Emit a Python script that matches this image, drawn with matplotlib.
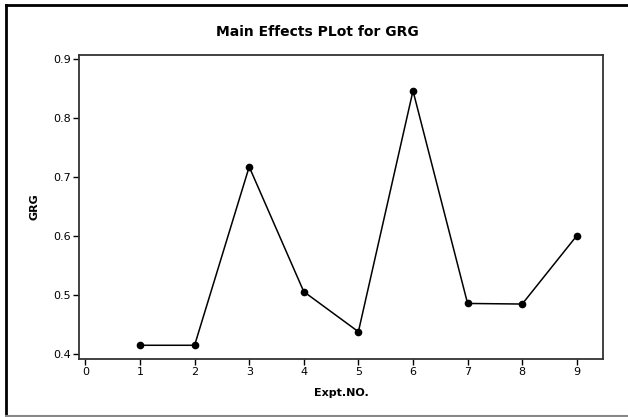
import matplotlib.pyplot as plt
from matplotlib.lines import Line2D

expt_no = [1, 2, 3, 4, 5, 6, 7, 8, 9]
grg = [0.414, 0.414, 0.717, 0.505, 0.437, 0.846, 0.485, 0.484, 0.600]

fig = plt.figure(figsize=(6.28, 4.17), dpi=100)
ax = fig.add_axes([0.1258, 0.1391, 0.8344, 0.7297])

ax.plot(expt_no, grg, color='black', linewidth=1.1, marker='o', markersize=4.5)

ax.set_xlim(-0.117, 9.48)
ax.set_ylim(0.3907, 0.9073)
ax.set_xticks(range(0, 10))
ax.set_yticks([0.4, 0.5, 0.6, 0.7, 0.8, 0.9])
ax.tick_params(direction='out', length=4, width=1, labelsize=8, pad=2)
for s in ax.spines.values():
    s.set_linewidth(1.3)
    s.set_color('#333333')

ax.set_xlabel('Expt.NO.', fontsize=8, fontweight='bold', labelpad=8)
ax.set_ylabel('GRG', fontsize=8, fontweight='bold', labelpad=10)
fig.text(0.505, 0.923, 'Main Effects PLot for GRG', ha='center', va='center',
         fontsize=10, fontweight='bold')

# figure frame (left and top black, bottom grey)
fig.add_artist(Line2D([0.009, 0.009], [0.002, 0.988], color='black', linewidth=2, transform=fig.transFigure))
fig.add_artist(Line2D([0.009, 1.0], [0.988, 0.988], color='black', linewidth=2, transform=fig.transFigure))
fig.add_artist(Line2D([0.009, 1.0], [0.003, 0.003], color='#888888', linewidth=1.5, transform=fig.transFigure))

fig.savefig('out.png', dpi=100)
